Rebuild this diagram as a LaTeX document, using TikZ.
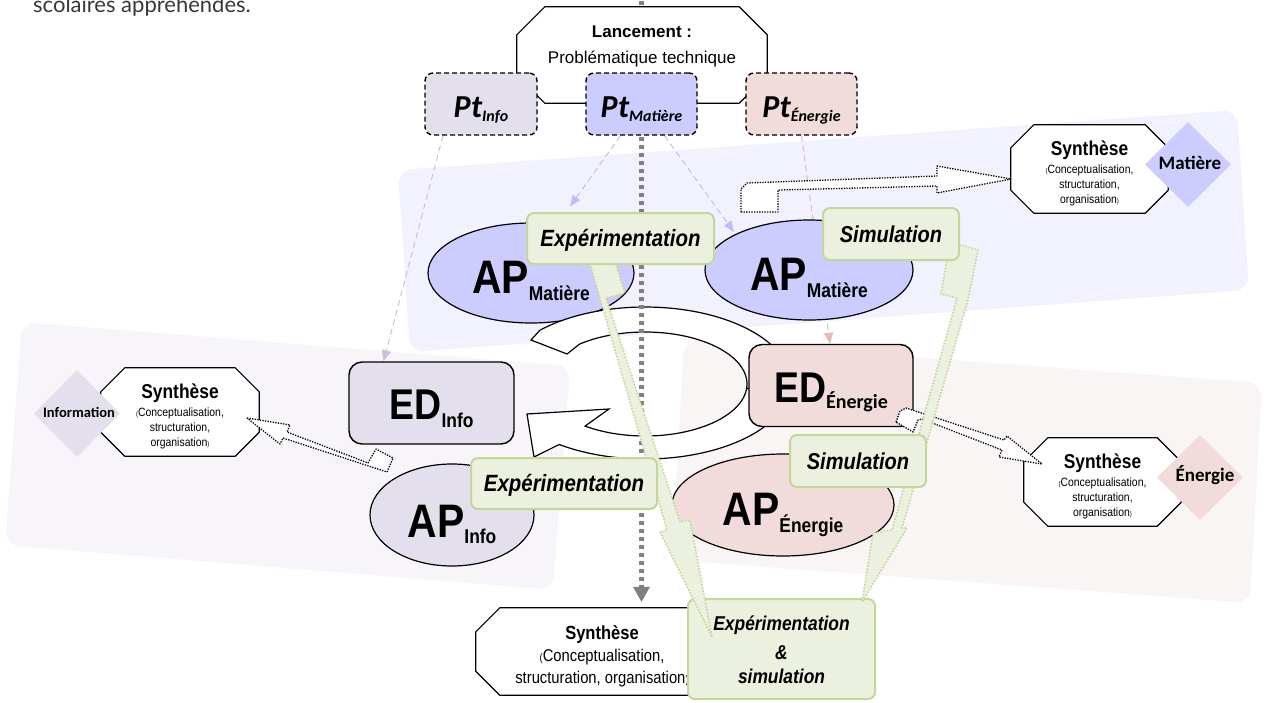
\documentclass[tikz,border=0pt]{standalone}
\usepackage{fontspec}
\setmainfont{Liberation Sans}
\newfontfamily\nar[FakeStretch=0.87]{Liberation Sans}
\newfontfamily\calib{Carlito}
\newfontfamily\lat{Lato}
\usetikzlibrary{shapes.geometric,arrows.meta}
\definecolor{matC}{HTML}{CCCCFF}
\definecolor{infC}{HTML}{E4DFEC}
\definecolor{eneC}{HTML}{F2DCDB}
\definecolor{grnF}{HTML}{EBF1DE}
\definecolor{grnD}{HTML}{C3D69B}
\definecolor{regM}{HTML}{F2F2FE}
\definecolor{regI}{HTML}{F7F5F9}
\definecolor{regE}{HTML}{FAF5F5}
\definecolor{arrM}{HTML}{BDBDFB}
\definecolor{arrI}{HTML}{CBC0DD}
\definecolor{arrE}{HTML}{E6B8B7}
\definecolor{greyA}{HTML}{808080}
\pgfdeclarelayer{regions}
\pgfdeclarelayer{dashl}
\pgfdeclarelayer{ellip}
\pgfdeclarelayer{ringl}
\pgfdeclarelayer{greyl}
\pgfsetlayers{regions,dashl,ellip,ringl,greyl,main}
\tikzset{
 ptbox/.style={draw=black, line width=1.4pt, dash pattern=on 5pt off 3pt, rounded corners=8pt, minimum width=112pt, minimum height=62pt, inner sep=0pt},
 edbox/.style={draw=black, line width=1.4pt, rounded corners=13pt, minimum width=164pt, minimum height=82pt, inner sep=0pt},
 apell/.style={ellipse, draw=black, line width=1.2pt, inner sep=0pt},
 gbox/.style={draw=grnD, fill=grnF, line width=2pt, rounded corners=7pt, inner sep=0pt},
 octframe/.style={rectangle, inner sep=0pt},
 octline/.style={draw=black, line width=1.2pt, fill=white},
 dmd/.style={diamond, inner sep=0pt, minimum width=86pt, minimum height=86pt},
 palearr/.style={line width=1pt, dash pattern=on 6pt off 4pt, -{Triangle[width=9pt,length=11pt]}},
 greyarr/.style={draw=greyA, line width=5pt, dash pattern=on 4pt off 4pt, -{Triangle[width=17pt,length=15pt,line width=0pt]}},
 bent/.style={draw=black, fill=white, line width=1.3pt, dash pattern=on 1.3pt off 1.3pt},
 funnel/.style={draw=grnD, fill=grnF, line width=1.6pt, dash pattern=on 1.6pt off 1.6pt},
 cyc/.style={draw=black, fill=white, line width=1.2pt},
 lbl/.style={inner sep=0pt, anchor=base},
}
\newcommand{\octagon}[3]{\draw[#3] ([xshift=#2]#1.north west) -- ([xshift=-#2]#1.north east) -- ([yshift=-#2]#1.north east) -- ([yshift=#2]#1.south east) -- ([xshift=-#2]#1.south east) -- ([xshift=#2]#1.south west) -- ([yshift=#2]#1.south west) -- ([yshift=-#2]#1.north west) -- cycle;}
\newcommand{\biglbl}[5]{{\nar\bfseries\fontsize{#3}{#3}\selectfont #1\raisebox{#4}{\fontsize{#5}{#5}\selectfont #2}}}
\newcommand{\ptlabel}[1]{{\calib\bfseries\itshape\fontsize{32}{32}\selectfont Pt\raisebox{-4pt}{\fontsize{16}{16}\selectfont #1}}}
\newcommand{\synthtxt}[1]{%
 \node[lbl, font=\nar\bfseries\fontsize{20}{20}\selectfont] (#1a) at ([yshift=14pt]#1.center) {Synthèse};
 \node[lbl, font=\nar\fontsize{12}{12}\selectfont] (#1b) at ([yshift=-4pt]#1.center) {{\fontsize{7}{7}\selectfont(}Conceptualisation,};
 \node[lbl, font=\nar\fontsize{12}{12}\selectfont] (#1c) at ([yshift=-19pt]#1.center) {structuration,};
 \node[lbl, font=\nar\fontsize{12}{12}\selectfont] (#1d) at ([yshift=-34pt]#1.center) {organisation{\fontsize{7}{7}\selectfont)}};
}
\begin{document}
\begin{tikzpicture}[x=1pt,y=-1pt,line join=round]
\useasboundingbox (0,0) rectangle (1264,702);
\begin{pgfonlayer}{regions}
\fill[white] (0,0) rectangle (1264,702);
\fill[regE, rounded corners=14pt] (684,340) -- (1262,383) -- (1250,603) -- (672,560) -- cycle;
\fill[regI, rounded corners=14pt] (22,322) -- (570,366) -- (553,590) -- (5,545) -- cycle;
\fill[regM, rounded corners=14pt] (398,170) -- (1237,110) -- (1249,290) -- (410,352) -- cycle;
\node[anchor=base west, inner sep=0pt, font=\lat\fontsize{22}{22}\selectfont, text=black!78] (toptext) at (33,12) {scolaires appréhendés.};
\end{pgfonlayer}

% ellipses
\begin{pgfonlayer}{ellip}
\node[apell, fill=matC, minimum width=206pt, minimum height=100pt] (apml) at (531,273) {};
\node[apell, fill=matC, minimum width=208pt, minimum height=100pt] (apmr) at (809,270) {};
\node[apell, fill=eneC, minimum width=222pt, minimum height=102pt] (apen) at (783,505) {};
\node[apell, fill=infC, minimum width=164pt, minimum height=102pt] (apin) at (452,515) {};
\node[lbl] (apmlT) at ([yshift=-20pt]apml.center) {\biglbl{AP}{Matière}{47}{-7pt}{20}};
\node[lbl] (apmrT) at ([yshift=-20pt]apmr.center) {\biglbl{AP}{Matière}{47}{-7pt}{20}};
\node[lbl] (apenT) at ([yshift=-20pt]apen.center) {\biglbl{AP}{Énergie}{47}{-7pt}{20}};
\node[lbl] (apinT) at ([yshift=-22pt]apin.center) {\biglbl{AP}{Info}{47}{-6pt}{20}};
\end{pgfonlayer}

% cycle
\begin{pgfonlayer}{ringl}
\draw[cyc] plot[domain=5:-136, samples=60] ({645+146*cos(\x)},{383+76*sin(\x)}) -- (531,340) -- (567,354) -- plot[domain=-130:5, samples=60] ({645+102*cos(\x)},{384+52*sin(\x)}) -- cycle;
\draw[cyc] plot[domain=5:126, samples=60] ({645+146*cos(\x)},{383+76*sin(\x)}) -- (534,457) -- (527,414) -- (609,409) -- plot[domain=126:5, samples=60] ({645+102*cos(\x)},{384+52*sin(\x)}) -- cycle;
\end{pgfonlayer}

% ED boxes
\node[edbox, fill=infC, minimum width=165pt] (edin) at (431.5,403) {};
\node[edbox, fill=eneC] (eden) at (831,385.5) {};
\node[lbl] (edinT) at ([yshift=-16pt]edin.center) {\biglbl{ED}{Info}{43}{-8pt}{20}};
\node[lbl] (edenT) at ([yshift=-16.5pt]eden.center) {\biglbl{ED}{\calib Énergie}{43}{-6pt}{20}};

% launch
\node[octframe, minimum width=250pt, minimum height=96pt] (lanc) at (642,55) {};
\octagon{lanc}{28pt}{octline}
\node[lbl, font=\bfseries\fontsize{17}{17}\selectfont] (lancA) at ([yshift=18pt]lanc.center) {Lancement :};
\node[lbl, font=\fontsize{17}{17}\selectfont] (lancB) at ([yshift=-8pt]lanc.center) {Problématique technique};

\node[ptbox, fill=infC] (ptinfo) at (481,104) {};
\node[ptbox, fill=matC, minimum width=111pt] (ptmat) at (641.5,104) {};
\node[ptbox, fill=eneC, minimum width=111pt] (ptener) at (801.5,104) {};
\node[lbl] (ptinfoT) at ([yshift=-13pt]ptinfo.center) {\ptlabel{Info}};
\node[lbl] (ptmatT) at ([yshift=-13pt]ptmat.center) {\ptlabel{Matière}};
\node[lbl] (ptenerT) at ([yshift=-13pt]ptener.center) {\ptlabel{Énergie}};

% synthesis octagons
\node[octframe, minimum width=157pt, minimum height=88pt] (synmat) at (1089.5,169) {};
\octagon{synmat}{23pt}{octline}
\synthtxt{synmat}
\node[octframe, minimum width=158pt, minimum height=88pt] (syninf) at (180,412) {};
\octagon{syninf}{24pt}{octline}
\synthtxt{syninf}
\node[octframe, minimum width=157pt, minimum height=88pt] (synene) at (1102.5,482) {};
\octagon{synene}{24pt}{octline}
\synthtxt{synene}

\node[dmd, fill=matC, minimum height=85pt] (dmat) at (1188,164.5) {};
\node[font=\calib\bfseries\fontsize{19}{19}\selectfont, inner sep=0pt] (dmatT) at (1190,163) {Matière};
\node[dmd, fill=infC, minimum height=87pt] (dinf) at (77,413.5) {};
\node[font=\calib\bfseries\fontsize{14.5}{14.5}\selectfont, inner sep=0pt] (dinfT) at (79,412) {Information};
\node[dmd, fill=eneC, minimum height=85pt] (dene) at (1200,477.5) {};
\node[font=\calib\bfseries\fontsize{19}{19}\selectfont, inner sep=0pt] (deneT) at (1205,475) {Énergie};

% bent white arrows
\draw[bent] (741,212) -- (741,189) -- (747,183) -- (937,176) -- (937,166) -- (1011,179) -- (937,193) -- (937,186) -- (778,190) -- (778,212) -- cycle;
\draw[bent] (247,418) -- (290,425) -- (287,432) -- (368,463) -- (376,449) -- (393,458) -- (387,472) -- (283,438) -- (280,444) -- cycle;
\draw[bent] (896,422) -- (900,411) -- (906,408) -- (1004,440) -- (1007,436) -- (1042,464) -- (999,457) -- (1002,450) -- (922,419) -- (918,420) -- (913,432) -- cycle;

% bottom synthesis
\node[octframe, minimum width=252pt, minimum height=87pt] (synbot) at (602,651.5) {};
\octagon{synbot}{24pt}{octline}
\node[lbl, font=\nar\bfseries\fontsize{19}{19}\selectfont] (synbotA) at ([yshift=12.5pt]synbot.center) {Synthèse};
\node[lbl, font=\nar\fontsize{17}{17}\selectfont] (synbotB) at ([yshift=-9.5pt]synbot.center) {{\fontsize{11}{11}\selectfont(}Conceptualisation,};
\node[lbl, font=\nar\fontsize{17}{17}\selectfont] (synbotC) at ([yshift=-31.5pt]synbot.center) {structuration, organisation{\fontsize{11}{11}\selectfont)}};

\node[gbox, minimum width=187pt, minimum height=100pt] (expsim) at (781.5,649) {};

% funnels
\draw[funnel] (590,264) -- (616,264) -- (625,293) -- (606,298) -- (680,522) -- (690,520) -- (712,637) -- (660,532) -- (667,530) -- cycle;
\draw[funnel] (950,242) -- (978,250) -- (968,300) -- (902,528) -- (907,528) -- (862,602) -- (873,533) -- (892,530) -- (957,298) -- (941,294) -- cycle;

\node[lbl, font=\nar\bfseries\itshape\fontsize{20}{20}\selectfont] (expsimA) at ([yshift=19pt]expsim.center) {Expérimentation};
\node[lbl, font=\nar\bfseries\itshape\fontsize{20}{20}\selectfont] (expsimB) at ([yshift=-10pt]expsim.center) {\&};
\node[lbl, font=\nar\bfseries\itshape\fontsize{20}{20}\selectfont] (expsimC) at ([yshift=-34pt]expsim.center) {simulation};

% green boxes
\node[gbox, minimum width=187pt, minimum height=51pt] (expu) at (620.5,238.5) {};
\node[gbox, minimum width=136pt, minimum height=52pt] (simu) at (891,234) {};
\node[gbox, minimum width=186pt, minimum height=51pt] (expl) at (564,483.5) {};
\node[gbox, minimum width=136pt, minimum height=52pt] (siml) at (858,461) {};
\node[lbl, font=\nar\bfseries\itshape\fontsize{23.5}{23.5}\selectfont] (expuT) at ([yshift=-8.4pt]expu.center) {Expérimentation};
\node[lbl, font=\nar\bfseries\itshape\fontsize{23}{23}\selectfont] (simuT) at ([yshift=-8.2pt]simu.center) {Simulation};
\node[lbl, font=\nar\bfseries\itshape\fontsize{23.5}{23.5}\selectfont] (explT) at ([yshift=-8.4pt]expl.center) {Expérimentation};
\node[lbl, font=\nar\bfseries\itshape\fontsize{23}{23}\selectfont] (simlT) at ([yshift=-8.2pt]siml.center) {Simulation};

% pale dashed connectors
\begin{pgfonlayer}{dashl}
\draw[palearr, arrI] ([xshift=-38pt]ptinfo.south) -- ([xshift=-48pt]edin.north);
\draw[palearr, arrM] ([xshift=-21pt]ptmat.south) -- ([xshift=39pt,yshift=16pt]apml.north);
\draw[palearr, arrM] ([xshift=23pt]ptmat.south) -- ([xshift=-75pt,yshift=38pt]apmr.center);
\draw[palearr, arrE] (ptener.south) -- ([xshift=-1pt]eden.north);
\end{pgfonlayer}

% grey dotted
\begin{pgfonlayer}{greyl}
\draw[greyarr] ([yshift=71pt]ptmat.north) -- ([xshift=39.5pt,yshift=6pt]synbot.north);
\end{pgfonlayer}
\end{tikzpicture}
\end{document}
